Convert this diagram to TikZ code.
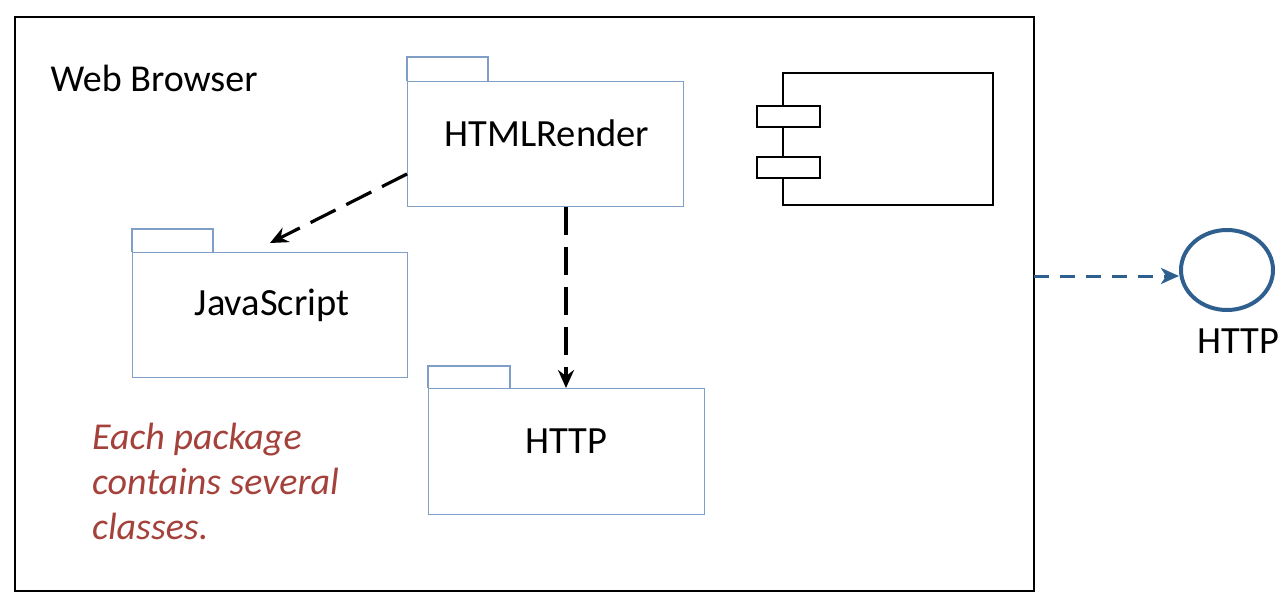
\documentclass[tikz,border=0pt]{standalone}
\usepackage{fontspec}
\setmainfont{Carlito}
\usetikzlibrary{arrows.meta,shapes.geometric}
\definecolor{pkgblue}{HTML}{7F9FC8}
\definecolor{ifblue}{HTML}{2F5F8F}
\definecolor{notered}{HTML}{A4413B}
\tikzset{
  pkgbody/.style={draw=pkgblue, line width=1.4pt, fill=white, inner sep=0pt},
  pkgtab/.style={draw=pkgblue, line width=1.4pt},
  pkglabel/.style={font=\fontsize{38.5}{44}\selectfont},
  dep/.style={line width=3.2pt, dash pattern=on 28pt off 12pt, -{Stealth[length=18pt,width=16pt,inset=6pt]}},
  ifdep/.style={draw=ifblue, line width=3pt, dash pattern=on 15pt off 11pt, -{Stealth[length=18pt,width=16pt,inset=5pt]}},
  comp/.style={draw=black, line width=2pt, fill=white},
}
\begin{document}
\begin{tikzpicture}[x=1pt,y=-1pt]
\useasboundingbox (0,0) rectangle (1285,604);
% outer frame
\node[draw=black, line width=1.8pt, minimum width=1019pt, minimum height=574pt, inner sep=0pt, anchor=north west] (frame) at (14,16) {};
\node[anchor=west, font=\fontsize{38}{44}\selectfont] (wb) at (47,78) {Web Browser};

% HTMLRender package
\draw[pkgtab] (407,81) -- (407,57) -- (488,57) -- (488,81);
\node[pkgbody, minimum width=276pt, minimum height=125pt, anchor=north west] (html) at (407,81) {};
\node[pkglabel] (htmlt) at (547,133) {HTMLRender};

% JavaScript package
\draw[pkgtab] (132,252) -- (132,229) -- (213,229) -- (213,252);
\node[pkgbody, minimum width=275pt, minimum height=125pt, anchor=north west] (js) at (132,252) {};
\node[pkglabel] (jst) at (272,305) {JavaScript};

% HTTP package
\draw[pkgtab] (428,388) -- (428,366) -- (510,366) -- (510,388);
\node[pkgbody, minimum width=276pt, minimum height=126pt, anchor=north west] (http) at (428,388) {};
\node[pkglabel] (httpt) at (566,441) {HTTP};

% component
\node[comp, minimum width=210pt, minimum height=132pt, inner sep=0pt, anchor=north west] (cmp) at (782,72) {};
\node[comp, minimum width=63pt, minimum height=21pt, inner sep=0pt, anchor=north west] (cmpa) at (756,105) {};
\node[comp, minimum width=63pt, minimum height=21pt, inner sep=0pt, anchor=north west] (cmpb) at (756,156) {};

% dependencies
\coordinate (a1) at (407,174);
\coordinate (a2) at (270,243);
\draw[dep] (a1) -- (a2);
\coordinate (b1) at (566,207);
\draw[dep] (b1) -- (http.north -| b1);

% interface
\node[ellipse, draw=ifblue, line width=4pt, minimum width=92pt, minimum height=80pt, inner sep=0pt] (iface) at (1227,270) {};
\node[font=\fontsize{38.5}{44}\selectfont] (ifl) at (1238.5,341) {HTTP};
\coordinate (c1) at (1034,276);
\draw[ifdep] (c1) -- (c1 -| iface.west);

% note
\node[anchor=north west, align=left, text=notered, font=\itshape\fontsize{38}{45}\selectfont, inner sep=0pt] (note) at (92,423) {Each package\\contains several\\classes.};
\end{tikzpicture}
\end{document}
